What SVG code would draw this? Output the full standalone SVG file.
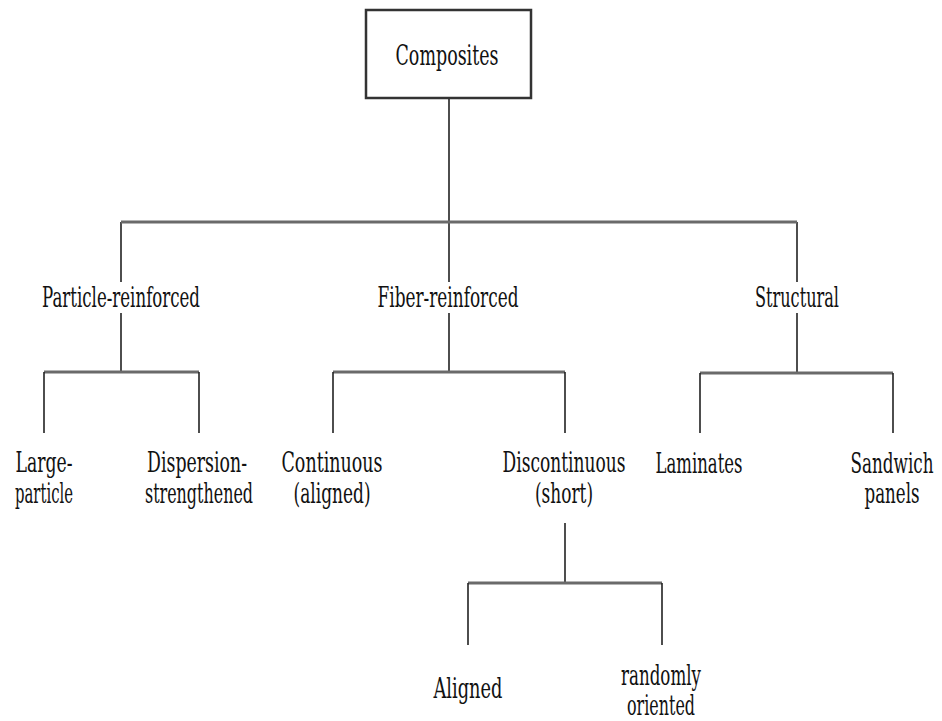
<svg xmlns="http://www.w3.org/2000/svg" width="942" height="721" viewBox="0 0 942 721">
<style>
text{font-family:"DejaVu Serif","Liberation Serif",serif;font-size:17px;fill:#111;text-anchor:middle}
.v{stroke:#222;stroke-width:1.6;fill:none}
.h{stroke:#6a6a6a;stroke-width:3.2;fill:none}
</style>
<rect width="942" height="721" fill="#fff"/>
<g id="connectors">
<path class="v" d="M449 99V222M121 222V282M449 222V282M797 222V282"/>
<path class="h" d="M121 222H797"/>
<path class="v" d="M121 313V372M449 313V372M797 313V373"/>
<path class="h" d="M44 372H199M333 372H565M700 373H893"/>
<path class="v" d="M44 372V433M199 372V433M333 372V433M565 372V433M700 373V433M893 373V433"/>
<path class="v" d="M565 523V583"/>
<path class="h" d="M468 583H662"/>
<path class="v" d="M468 583V645M662 583V645"/>
</g>
<g id="composites">
<rect x="366" y="10" width="165" height="88" fill="#fff" stroke="#333" stroke-width="2.5"/>
<text transform="translate(447 65) scale(1 1.65)" textLength="103" lengthAdjust="spacingAndGlyphs">Composites</text>
</g>
<g id="particle"><text transform="translate(121 307) scale(1 1.65)" textLength="158" lengthAdjust="spacingAndGlyphs">Particle-reinforced</text></g>
<g id="fiber"><text transform="translate(448 307) scale(1 1.65)" textLength="141" lengthAdjust="spacingAndGlyphs">Fiber-reinforced</text></g>
<g id="structural"><text transform="translate(797 307) scale(1 1.65)" textLength="84" lengthAdjust="spacingAndGlyphs">Structural</text></g>
<g id="large"><text transform="translate(44 472) scale(1 1.65)" textLength="57" lengthAdjust="spacingAndGlyphs">Large-</text><text transform="translate(44 503) scale(1 1.65)" textLength="58" lengthAdjust="spacingAndGlyphs">particle</text></g>
<g id="dispersion"><text transform="translate(197 472) scale(1 1.65)" textLength="100" lengthAdjust="spacingAndGlyphs">Dispersion-</text><text transform="translate(199 503) scale(1 1.65)" textLength="108" lengthAdjust="spacingAndGlyphs">strengthened</text></g>
<g id="continuous"><text transform="translate(332 472) scale(1 1.65)" textLength="101" lengthAdjust="spacingAndGlyphs">Continuous</text><text transform="translate(332 503) scale(1 1.65)" textLength="77" lengthAdjust="spacingAndGlyphs">(aligned)</text></g>
<g id="discontinuous"><text transform="translate(564 472) scale(1 1.65)" textLength="123" lengthAdjust="spacingAndGlyphs">Discontinuous</text><text transform="translate(564 503) scale(1 1.65)" textLength="58" lengthAdjust="spacingAndGlyphs">(short)</text></g>
<g id="laminates"><text transform="translate(699 473) scale(1 1.65)" textLength="87" lengthAdjust="spacingAndGlyphs">Laminates</text></g>
<g id="sandwich"><text transform="translate(892 473) scale(1 1.65)" textLength="83" lengthAdjust="spacingAndGlyphs">Sandwich</text><text transform="translate(892 503) scale(1 1.65)" textLength="55" lengthAdjust="spacingAndGlyphs">panels</text></g>
<g id="aligned"><text transform="translate(468 698) scale(1 1.65)" textLength="69" lengthAdjust="spacingAndGlyphs">Aligned</text></g>
<g id="random"><text transform="translate(661 685) scale(1 1.65)" textLength="80" lengthAdjust="spacingAndGlyphs">randomly</text><text transform="translate(661 715) scale(1 1.65)" textLength="68" lengthAdjust="spacingAndGlyphs">oriented</text></g>
</svg>
